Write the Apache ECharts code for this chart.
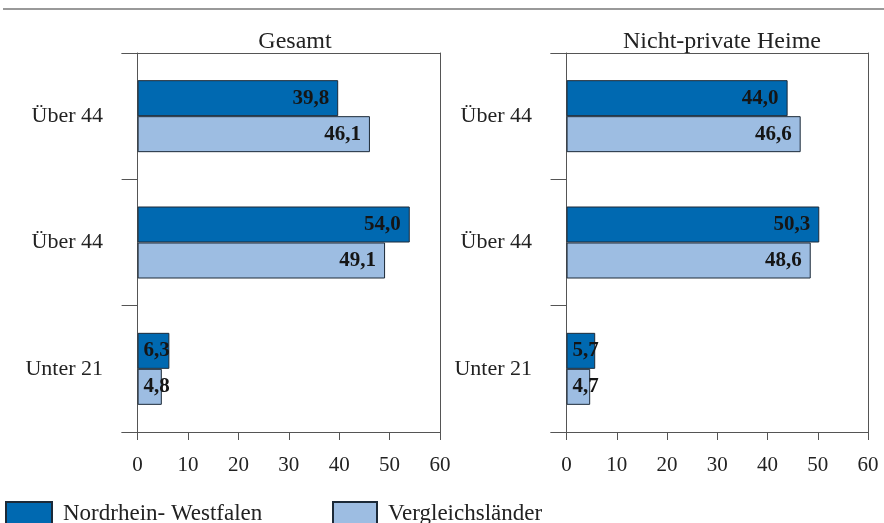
<!DOCTYPE html>
<html>
<head>
<meta charset="utf-8">
<script src="https://cdn.jsdelivr.net/npm/echarts@6/dist/echarts.min.js"></script>
<style>
  html, body { margin: 0; padding: 0; background: #fff; }
  #main { width: 884px; height: 523px; }
</style>
</head>
<body>
<div id="main"></div>
<script>
// categories, top to bottom
var categories = ["Über 44", "Über 44", "Unter 21"];
var panelTitles = ["Gesamt", "Nicht-private Heime"];
var seriesNames = ["Nordrhein- Westfalen", "Vergleichsländer"];

// Gesamt
var gesamtNRW = [39.8, 54.0, 6.3];
var gesamtVergleich = [46.1, 49.1, 4.8];
// Nicht-private Heime
var heimeNRW = [44.0, 50.3, 5.7];
var heimeVergleich = [46.6, 48.6, 4.7];

var xTicks = [0, 10, 20, 30, 40, 50, 60];

var FONT = "'Liberation Serif', 'DejaVu Serif', serif";
var DARK = "#0069b1";
var LIGHT = "#9dbde2";
var AXIS = "#555";

var myChart = echarts.init(document.getElementById("main"));

function fmt(p) {
  return p.value.toFixed(1).replace(".", ",");
}

function barData(arr) {
  // short bars keep their label starting at the bar's left edge
  return arr.map(function (v) {
    if (v < 10) {
      return { value: v, label: { position: "insideLeft", distance: 6 } };
    }
    return v;
  });
}

function makeBar(name, color, data, idx) {
  return {
    name: name,
    type: "bar",
    xAxisIndex: idx * 2,
    yAxisIndex: idx * 2,
    barWidth: 36,
    barGap: "0%",
    data: barData(data),
    itemStyle: { color: color, borderColor: "#1c2a38", borderWidth: 1 },
    label: {
      show: true,
      position: "insideRight",
      distance: 9,
      padding: [3, 0, 0, 0],
      formatter: fmt,
      fontFamily: FONT,
      fontWeight: "bold",
      fontSize: 21,
      color: "#151515"
    }
  };
}

var grids = [
  { left: 122, top: 53, width: 318, height: 379 },
  { left: 551, top: 53, width: 317, height: 379 }
];

var xAxes = [];
var yAxes = [];
[0, 1].forEach(function (g) {
  xAxes.push({
    type: "value",
    gridIndex: g,
    min: -3.1,
    max: 60,
    axisLine: { show: true, lineStyle: { color: AXIS, width: 1 } },
    axisTick: { show: true, customValues: xTicks, length: 8, lineStyle: { color: AXIS } },
    axisLabel: { customValues: xTicks, fontFamily: FONT, fontSize: 21, color: "#222", margin: 23 },
    splitLine: { show: false }
  });
  xAxes.push({
    type: "value",
    gridIndex: g,
    position: "top",
    min: -3.1,
    max: 60,
    axisLine: { show: true, lineStyle: { color: AXIS, width: 1 } },
    axisTick: { show: false },
    axisLabel: { show: false },
    splitLine: { show: false }
  });
  yAxes.push({
    type: "category",
    gridIndex: g,
    data: categories,
    inverse: true,
    axisLine: { show: true, onZero: true, onZeroAxisIndex: g * 2, lineStyle: { color: AXIS, width: 1 } },
    axisTick: { show: true, length: 16, lineStyle: { color: AXIS } },
    axisLabel: { fontFamily: FONT, fontSize: 22, color: "#222", margin: 19, padding: [6, 0, 0, 0] }
  });
  yAxes.push({
    type: "category",
    gridIndex: g,
    data: categories,
    inverse: true,
    position: "right",
    axisLine: { show: true, onZero: false, lineStyle: { color: AXIS, width: 1 } },
    axisTick: { show: false },
    axisLabel: { show: false }
  });
});

var option = {
  animation: false,
  backgroundColor: "#fff",
  title: [
    { text: panelTitles[0], left: 290, top: 25, textAlign: "center",
      textStyle: { fontFamily: FONT, fontWeight: "normal", fontSize: 24, color: "#222" } },
    { text: panelTitles[1], left: 717, top: 25, textAlign: "center",
      textStyle: { fontFamily: FONT, fontWeight: "normal", fontSize: 24, color: "#222" } }
  ],
  legend: [
    { data: [seriesNames[0]], left: 5, top: 501, padding: 0, icon: "rect",
      itemWidth: 46, itemHeight: 24,
      textStyle: { fontFamily: FONT, fontSize: 23, color: "#222", padding: [0, 0, 0, 6] } },
    { data: [seriesNames[1]], left: 332, top: 501, padding: 0, icon: "rect",
      itemWidth: 44, itemHeight: 24,
      textStyle: { fontFamily: FONT, fontSize: 23, color: "#222", padding: [0, 0, 0, 6] } }
  ],
  graphic: [
    { type: "line", shape: { x1: 3, y1: 9, x2: 884, y2: 9 },
      style: { stroke: "#777", lineWidth: 1.5 } }
  ],
  grid: grids,
  xAxis: xAxes,
  yAxis: yAxes,
  series: [
    makeBar(seriesNames[0], DARK, gesamtNRW, 0),
    makeBar(seriesNames[1], LIGHT, gesamtVergleich, 0),
    makeBar(seriesNames[0], DARK, heimeNRW, 1),
    makeBar(seriesNames[1], LIGHT, heimeVergleich, 1)
  ]
};

myChart.setOption(option);
window.onresize = function () {
  myChart.resize();
};
</script>
</body>
</html>
